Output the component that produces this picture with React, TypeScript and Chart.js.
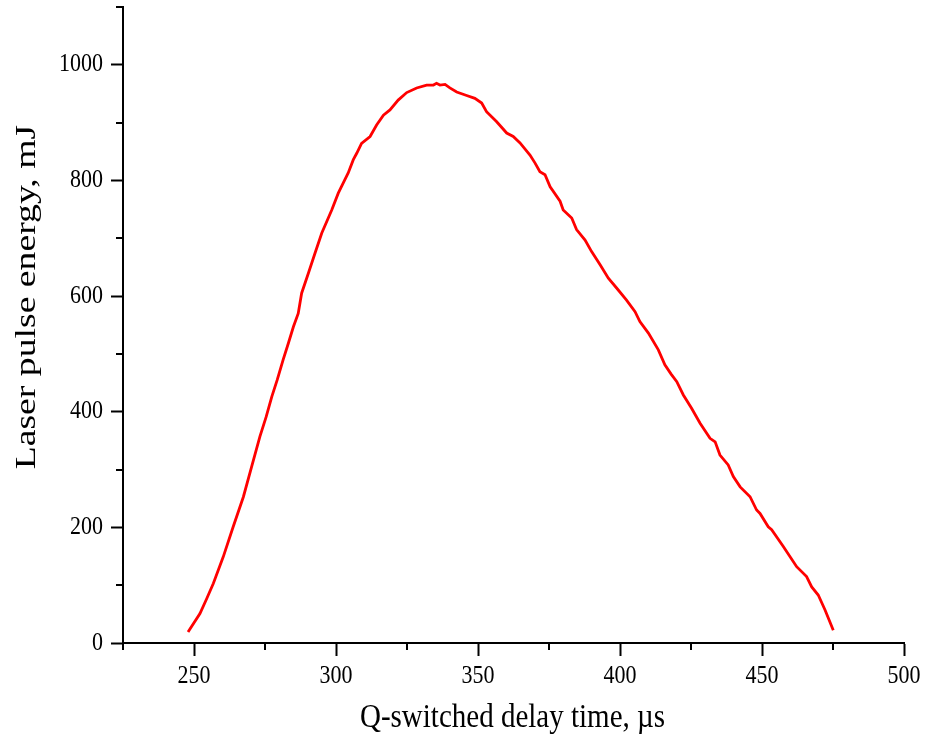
import React, { useEffect, useRef } from "react";
import { Chart, registerables } from "chart.js";

Chart.register(...registerables);

// Q-switched delay time (µs)
const delayTimes = [
  247.9, 252.1, 254.5, 256.8, 260.3, 263.8, 267.4, 270.3, 273.2, 275.4, 277.4,
  279.3, 281.4, 283.2, 285.0, 286.7, 287.9, 290.3, 292.6, 295.0, 298.5, 300.8,
  303.0, 304.3, 306.1, 307.3, 309.0, 312.0, 314.3, 316.7, 319.0, 321.9, 324.9,
  328.4, 331.9, 334.3, 335.4, 336.6, 338.4, 340.1, 342.5, 346.0, 348.9, 351.3,
  353.0, 356.5, 360.1, 362.4, 364.8, 368.3, 370.1, 371.8, 373.6, 375.4, 378.9,
  380.0, 383.0, 384.7, 387.7, 390.0, 393.0, 395.9, 398.8, 402.3, 405.3, 407.0,
  410.0, 413.5, 415.8, 418.0, 420.0, 422.3, 425.2, 428.2, 431.7, 433.5, 435.2,
  438.1, 439.9, 442.3, 445.8, 448.1, 449.3, 452.2, 453.4, 457.5, 462.2, 465.7,
  467.5, 469.8, 472.2, 475.1,
];

// Laser pulse energy (mJ)
const pulseEnergies = [
  19, 51, 77, 103, 149, 201, 253, 305, 357, 391, 426,
  455, 490, 518, 547, 570, 605, 640, 674, 709, 749, 778,
  800, 813, 836, 847, 864, 876, 896, 913, 922, 939, 952,
  960, 965, 965, 968, 965, 966, 960, 953, 947, 942, 934,
  919, 902, 882, 876, 865, 844, 830, 815, 810, 789, 764,
  749, 735, 715, 697, 677, 654, 631, 614, 593, 573, 556,
  536, 507, 481, 465, 452, 429, 406, 380, 354, 348, 325,
  308, 288, 270, 253, 230, 224, 201, 196, 167, 132, 115,
  97, 83, 57, 22,
];

// Axis ranges and tick values
const xRange = [225, 500];
const yRange = [0, 1100];
const xMajorTicks = [250, 300, 350, 400, 450, 500];
const xMinorTicks = [225, 275, 325, 375, 425, 475];
const yMajorTicks = [0, 200, 400, 600, 800, 1000];
const yMinorTicks = [100, 300, 500, 700, 900, 1100];

const xTitle = "Q-switched delay time, µs";
const yTitle = "Laser pulse energy, mJ";

const FONT = "'Liberation Serif', 'Times New Roman', serif";
// Glyphs are drawn slightly taller than wide
const TEXT_STRETCH = 1.15;

// Short outward tick marks between the labelled ones
const minorTicksPlugin = {
  id: "minorTicks",
  afterDraw(chart: any) {
    const { ctx, chartArea, scales } = chart;
    ctx.save();
    ctx.strokeStyle = "#000";
    ctx.lineWidth = 2;
    ctx.beginPath();
    for (const v of xMinorTicks) {
      const px = Math.round(scales.x.getPixelForValue(v));
      ctx.moveTo(px, chartArea.bottom);
      ctx.lineTo(px, chartArea.bottom + 7);
    }
    for (const v of yMinorTicks) {
      const py = Math.round(scales.y.getPixelForValue(v));
      ctx.moveTo(chartArea.left, py);
      ctx.lineTo(chartArea.left - 7, py);
    }
    ctx.stroke();
    ctx.restore();
  },
};

function drawStretched(
  ctx: CanvasRenderingContext2D,
  text: string,
  x: number,
  y: number,
  size: number,
  align: CanvasTextAlign,
  baseline: CanvasTextBaseline,
  rotate = 0,
  stretch = TEXT_STRETCH
) {
  ctx.save();
  ctx.translate(x, y);
  if (rotate) {
    ctx.rotate(rotate);
    ctx.scale(stretch, 1);
  } else {
    ctx.scale(1, stretch);
  }
  ctx.fillStyle = "#000";
  ctx.font = `${size}px ${FONT}`;
  ctx.textAlign = align;
  ctx.textBaseline = baseline;
  ctx.fillText(text, 0, 0);
  ctx.restore();
}

// Tick labels and axis titles
const axisTextPlugin = {
  id: "axisText",
  afterDraw(chart: any) {
    const { ctx, chartArea, scales } = chart;
    for (const v of xMajorTicks) {
      drawStretched(ctx, String(v), scales.x.getPixelForValue(v), chartArea.bottom + 40, 22, "center", "alphabetic");
    }
    for (const v of yMajorTicks) {
      drawStretched(ctx, String(v), chartArea.left - 20, scales.y.getPixelForValue(v), 22, "right", "middle");
    }
    const cx = (chartArea.left + chartArea.right) / 2;
    drawStretched(ctx, xTitle, cx - 1, chartArea.bottom + 84, 29, "center", "alphabetic");
    const cy = scales.y.getPixelForValue(600) + 1;
    drawStretched(ctx, yTitle, 27, cy, 29, "center", "middle", -Math.PI / 2, 1.3);
  },
};

export default function App() {
  const canvasRef = useRef<HTMLCanvasElement | null>(null);

  useEffect(() => {
    const canvas = canvasRef.current;
    if (!canvas) return;
    const points = delayTimes.map((t, i) => ({ x: t, y: pulseEnergies[i] }));
    const chart = new Chart(canvas, {
      type: "line",
      data: {
        datasets: [
          {
            data: points,
            borderColor: "#ff0000",
            borderWidth: 2.8,
            pointRadius: 0,
            tension: 0,
            fill: false,
          },
        ],
      },
      options: {
        animation: false,
        responsive: false,
        maintainAspectRatio: false,
        layout: { padding: { top: 7, right: 21, left: 0, bottom: 0 } },
        plugins: {
          legend: { display: false },
          tooltip: { enabled: false },
        },
        scales: {
          x: {
            type: "linear",
            min: xRange[0],
            max: xRange[1],
            afterBuildTicks: (scale: any) => {
              scale.ticks = xMajorTicks.map((v) => ({ value: v }));
            },
            afterFit: (scale: any) => {
              scale.height = 93;
              scale.paddingLeft = 0;
              scale.paddingRight = 0;
            },
            grid: {
              drawOnChartArea: false,
              drawTicks: true,
              tickLength: 13,
              tickWidth: 2,
              tickColor: "#000",
            },
            border: { display: true, color: "#000", width: 2 },
            ticks: { display: false },
            title: { display: false },
          },
          y: {
            type: "linear",
            min: yRange[0],
            max: yRange[1],
            afterBuildTicks: (scale: any) => {
              scale.ticks = yMajorTicks.map((v) => ({ value: v }));
            },
            afterFit: (scale: any) => {
              scale.width = 123;
              scale.paddingTop = 0;
              scale.paddingBottom = 0;
            },
            grid: {
              drawOnChartArea: false,
              drawTicks: true,
              tickLength: 12,
              tickWidth: 2,
              tickColor: "#000",
            },
            border: { display: true, color: "#000", width: 2 },
            ticks: { display: false },
            title: { display: false },
          },
        },
      },
      plugins: [minorTicksPlugin, axisTextPlugin],
    });
    return () => chart.destroy();
  }, []);

  return (
    <div style={{ position: "absolute", left: 0, top: 0, width: 925, height: 736, background: "#fff" }}>
      <canvas ref={canvasRef} width={925} height={736} style={{ display: "block" }} />
    </div>
  );
}
